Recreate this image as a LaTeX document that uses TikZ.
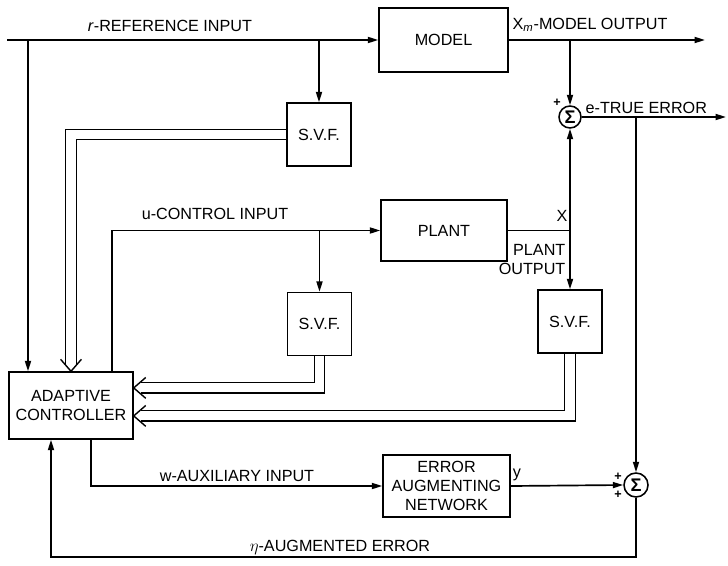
\documentclass[tikz,border=0pt]{standalone}
\usepackage{fontspec}
\setmainfont{Liberation Sans}
\usetikzlibrary{arrows.meta,positioning,calc}

\begin{document}
\begin{tikzpicture}[
      x=0.025cm,y=-0.025cm,
      font=\fontsize{11.5}{13.5}\selectfont,
      blk/.style={draw,line width=1pt,minimum width=3.2cm,minimum height=1.6cm,align=center},
      svf/.style={draw,line width=1pt,minimum width=1.6cm,minimum height=1.575cm},
      sum/.style={draw,circle,line width=1.1pt,inner sep=0pt,minimum size=0.55cm,font=\fontsize{13}{13}\selectfont\bfseries},
      sig/.style={line width=1.2pt,-{Triangle[length=2.6mm,width=1.5mm]}},
      dbl/.style={double,double distance=6.5pt,line width=1pt,shorten >=0.19cm},
      hollow/.pic={\draw[line width=1pt,line join=miter] (-0.3cm,0.26cm) -- (0,0) -- (-0.3cm,-0.26cm);},
      lbl/.style={inner sep=1pt},
      sgn/.style={inner sep=0pt,font=\small\bfseries},
    ]
    \useasboundingbox (0,0) rectangle (728,565);
    \node[blk,minimum width=3.225cm] (model) at (443.5,40) {MODEL};
    \node[blk,minimum width=3.15cm,minimum height=1.525cm] (plant) at (444,230.5) {PLANT};
    \node[blk,minimum width=3.1cm,minimum height=1.675cm] (ctrl) at (71,405.5) {ADAPTIVE\\CONTROLLER};
    \node[blk,minimum width=3.175cm,minimum height=1.55cm] (errnet) at (446.5,486) {ERROR\\AUGMENTING\\NETWORK};
    \foreach \n/\x/\y in {1/319/134.5,2/319.5/324,3/570/321.5} {
      \node[svf] (svf\n) at (\x,\y) {S.V.F.};
    }
    \node[sum] (sum1) at (570,117) {Σ};
    \node[sum,minimum size=0.6cm] (sum2) at (636,485) {Σ};
    \coordinate (rin) at (7,40);
    \coordinate (rbr) at (28,40);
    \coordinate (xmout) at (705,40);
    \coordinate (eout) at (726,117);
    \coordinate (etab) at (51,557);
    \coordinate (xj) at (plant.east -| sum1.south);
    \coordinate (in2) at ([yshift=0.44cm]ctrl.east);
    \coordinate (in3) at ([yshift=-0.26cm]ctrl.east);
    \draw[sig] (rin) -- (model.west);
    \draw[sig] (rbr) -- (rbr |- ctrl.north);
    \draw[sig] (svf1.north |- rin) -- (svf1.north);
    \draw[sig] (model.east) -- (xmout);
    \draw[sig] (sum1.north |- model.east) -- (sum1.north);
    \draw[sig] (sum1.east) -- (eout);
    \draw[sig] (sum2.north |- sum1.east) -- (sum2.north);
    \draw[sig] ([xshift=1.025cm]ctrl.north) |- (plant.west);
    \draw[sig] (svf2.north |- plant.west) -- (svf2.north);
    \draw[line width=1.2pt] (plant.east) -- (xj);
    \draw[sig] (xj) -- (sum1.south);
    \draw[sig] (xj) -- (svf3.north);
    \draw[dbl] (svf1.west) -| (ctrl.north);
    \draw[dbl] (svf2.south) |- (in2);
    \draw[dbl] (svf3.south) |- (in3);
    \pic[rotate=-90] at (ctrl.north) {hollow};
    \pic[rotate=180] at (in2) {hollow};
    \pic[rotate=180] at (in3) {hollow};
    \draw[sig] ([xshift=0.5cm]ctrl.south) |- (errnet.west);
    \draw[sig] (errnet.east) -- (sum2.west);
    \draw[sig] (sum2.south) |- (etab) -- (etab |- ctrl.south);
    \node[lbl] (rlbl) at (170,26) {\textit{r}-REFERENCE INPUT};
    \node[lbl,anchor=west] (xmlbl) at (511,25) {X\textsubscript{\textit{m}}-MODEL OUTPUT};
    \node[lbl,anchor=west] (elbl) at (584,108) {e-TRUE ERROR};
    \node[sgn] (p1) at (557,103) {+};
    \node[lbl] (ulbl) at (215,214) {u-CONTROL INPUT};
    \node[lbl] (xlbl) at (562,216) {X};
    \node[lbl,anchor=north east,align=right] (polbl) at (567,243) {PLANT\\OUTPUT};
    \node[lbl] (wlbl) at (237,476) {w-AUXILIARY INPUT};
    \node[lbl] (ylbl) at (517,475) {y};
    \node[sgn] (p2) at (618,477) {+};
    \node[sgn] (p3) at (618,495) {+};
    \node[lbl] (etalbl) at (340,547) {$\eta$-AUGMENTED ERROR};
  \end{tikzpicture}
\end{document}
